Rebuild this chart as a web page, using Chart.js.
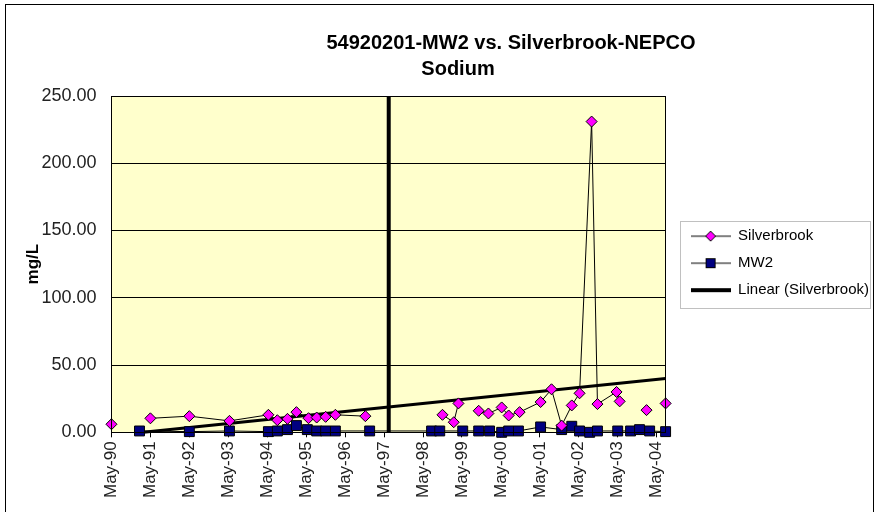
<!DOCTYPE html>
<html>
<head>
<meta charset="utf-8">
<script src="https://cdn.jsdelivr.net/npm/chart.js@4.4.1/dist/chart.umd.min.js"></script>
<style>
body { margin: 0; background: #fff; }
#frame { position: absolute; left: 5px; top: 4px; width: 867px; height: 530px; border: 1px solid #000; }
canvas { display: block; }
</style>
</head>
<body>
<div id="frame"><canvas id="Graf" width="867" height="507"></canvas></div>
<script>
// decimal years, May of each year ~ .37
var tickYears = [1990.37, 1991.37, 1992.37, 1993.37, 1994.37, 1995.37, 1996.37, 1997.37,
                 1998.37, 1999.37, 2000.37, 2001.37, 2002.37, 2003.37, 2004.37];
var tickLabels = ['May-90', 'May-91', 'May-92', 'May-93', 'May-94', 'May-95', 'May-96', 'May-97',
                  'May-98', 'May-99', 'May-00', 'May-01', 'May-02', 'May-03', 'May-04'];

// null = no sample, the line breaks there
var silverDates = [1990.37, 1990.9, 1991.37, 1992.37, 1993.40, 1994.40, 1994.63, 1994.89, 1995.12,
                   1995.43, 1995.64, 1995.87, 1996.12, 1996.89, 1997.9, 1998.87, 1999.16, 1999.28,
                   1999.5, 1999.80, 2000.05, 2000.39, 2000.57, 2000.85, 2001.39, 2001.67, 2001.93,
                   2002.19, 2002.39, 2002.70, 2002.85, 2003.34, 2003.42, 2003.8, 2004.11, 2004.4,
                   2004.60];
var silverValues = [6, null, 10.4, 12, 8.5, 13, 9, 10, 15,
                    10.5, 11, 11.5, 13, 12, null, 13, 7.5, 21.5,
                    null, 16, 14, 18.5, 12.5, 15, 22.5, 32, 5,
                    20, 29, 231, 21, 30, 23, null, 16.5, null,
                    21.5];

var mw2Dates = [1991.09, 1992.37, 1993.40, 1994.40, 1994.63, 1994.89, 1995.12, 1995.40, 1995.64,
                1995.87, 1996.12, 1997.00, 1998.59, 1998.80, 1999.39, 1999.80, 2000.08, 2000.39,
                2000.57, 2000.82, 2001.39, 2001.93, 2002.19, 2002.39, 2002.65, 2002.85, 2003.37,
                2003.70, 2003.93, 2004.19, 2004.60];
var mw2Values = [1, 0.5, 1, 0.5, 1, 2, 5, 2, 1,
                 1, 1, 1, 1, 1, 1, 1, 1, 0,
                 1, 1, 4, 2, 4.5, 1, 0, 1, 1,
                 1, 2, 1, 0.5];

var trendDates = [1991.19, 2004.60];
var trendValues = [0, 40];

var markDates = [1997.49, 1997.49];
var markValues = [0, 250];

var titleLines = ['54920201-MW2 vs. Silverbrook-NEPCO', 'Sodium'];
var fam = '"Liberation Sans", Arial, sans-serif';

function pairs(xs, ys) {
    var out = [];
    for (var i = 0; i < xs.length; i++) out.push({ x: xs[i], y: ys[i] });
    return out;
}

function legendIcon(kind) {
    var c = document.createElement('canvas');
    c.width = 40;
    c.height = 14;
    var g = c.getContext('2d');
    g.strokeStyle = '#000';
    g.lineWidth = kind == 'trend' ? 4 : 1;
    g.beginPath();
    g.moveTo(0, 7);
    g.lineTo(40, 7);
    g.stroke();
    g.lineWidth = 1;
    if (kind == 'diamond') {
        g.fillStyle = '#FF00FF';
        g.beginPath();
        g.moveTo(20, 2); g.lineTo(25, 7); g.lineTo(20, 12); g.lineTo(15, 7);
        g.closePath();
        g.fill(); g.stroke();
    } else if (kind == 'square') {
        g.fillStyle = '#000080';
        g.fillRect(15.5, 2.5, 9, 9);
        g.strokeRect(15.5, 2.5, 9, 9);
    }
    return c;
}

var plotBg = {
    id: 'plotBg',
    afterLayout: function (chart) {
        // put the legend beside the plot, a bit right of the default spot
        var lg = chart.legend, a = chart.chartArea;
        lg.left += 13;
        lg.right += 13;
        lg.top = a.top;
        lg.bottom = a.bottom - 2;
        lg.height = lg.bottom - lg.top;
    },
    beforeDraw: function (chart) {
        var a = chart.chartArea, ctx = chart.ctx;
        ctx.save();
        ctx.fillStyle = '#FFFFCC';
        ctx.fillRect(a.left, a.top, a.right - a.left, a.bottom - a.top);
        ctx.restore();
    },
    afterDraw: function (chart) {
        var a = chart.chartArea, ctx = chart.ctx;
        ctx.save();
        ctx.strokeStyle = '#000';
        ctx.lineWidth = 1;
        ctx.strokeRect(Math.round(a.left) + 0.5, Math.round(a.top) + 0.5,
                       Math.round(a.right - a.left), Math.round(a.bottom - a.top));
        // legend frame
        var hb = chart.legend.legendHitBoxes;
        if (hb && hb.length) {
            var l = hb[0].left, r = 0, t = hb[0].top, b = 0;
            hb.forEach(function (h) {
                l = Math.min(l, h.left);
                r = Math.max(r, h.left + h.width);
                t = Math.min(t, h.top);
                b = Math.max(b, h.top + h.height);
            });
            ctx.strokeStyle = '#c0c0c0';
            ctx.strokeRect(Math.round(l - 11) + 0.5, Math.round(t - 8) + 0.5,
                           Math.round(r - l + 12), Math.round(b - t + 18));
        }
        // titles
        ctx.fillStyle = '#000';
        ctx.font = 'bold 20px ' + fam;
        ctx.textAlign = 'center';
        ctx.textBaseline = 'middle';
        ctx.fillText(titleLines[0], 505, 38);
        ctx.fillText(titleLines[1], 452, 64);
        ctx.restore();
    }
};

var graf = new Chart('Graf', {
    type: 'line',
    data: {
        datasets: [{
            label: 'Silverbrook',
            data: pairs(silverDates, silverValues),
            borderColor: '#000',
            borderWidth: 1,
            pointStyle: 'rectRot',
            pointRadius: 5.5,
            pointBackgroundColor: '#FF00FF',
            pointBorderColor: '#000',
            pointBorderWidth: 1,
            spanGaps: false,
            clip: false,
            order: 1
        }, {
            label: 'MW2',
            data: pairs(mw2Dates, mw2Values),
            borderColor: '#000',
            borderWidth: 1,
            pointStyle: 'rect',
            pointRadius: 7,
            pointBackgroundColor: '#000080',
            pointBorderColor: '#000',
            pointBorderWidth: 1,
            clip: false,
            order: 2
        }, {
            label: 'Linear (Silverbrook)',
            data: pairs(trendDates, trendValues),
            borderColor: '#000',
            borderWidth: 3,
            pointRadius: 0,
            clip: false,
            order: 3
        }, {
            label: 'mark',
            data: pairs(markDates, markValues),
            borderColor: '#000',
            borderWidth: 4,
            pointRadius: 0,
            clip: false,
            order: 4
        }]
    },
    options: {
        responsive: false,
        animation: false,
        layout: { padding: { top: 91, left: 12, right: 7, bottom: 10 } },
        scales: {
            x: {
                type: 'linear',
                min: 1990.37,
                max: 2004.60,
                afterBuildTicks: function (axis) {
                    axis.ticks = tickYears.map(function (v) { return { value: v }; });
                },
                ticks: {
                    autoSkip: false,
                    minRotation: 90,
                    maxRotation: 90,
                    padding: 4,
                    color: '#222',
                    font: { family: fam, size: 17 },
                    callback: function (v, i) { return tickLabels[i]; }
                },
                grid: { drawOnChartArea: false, drawTicks: true, tickLength: 5, color: '#000' },
                border: { color: '#000' }
            },
            y: {
                min: 0,
                max: 250,
                ticks: {
                    stepSize: 50,
                    padding: 15,
                    color: '#222',
                    font: { family: fam, size: 18 },
                    callback: function (v) { return v.toFixed(2); }
                },
                grid: { color: '#000', drawTicks: false },
                border: { color: '#000' },
                title: {
                    display: true,
                    text: 'mg/L',
                    color: '#000',
                    padding: { top: 5, bottom: -17 },
                    font: { family: fam, size: 17, weight: 'bold' }
                }
            }
        },
        plugins: {
            tooltip: { enabled: false },
            legend: {
                position: 'right',
                labels: {
                    usePointStyle: true,
                    pointStyleWidth: 40,
                    padding: 12,
                    color: '#222',
                    font: { family: fam, size: 15 },
                    generateLabels: function () {
                        return [
                            { text: 'Silverbrook', pointStyle: legendIcon('diamond'), hidden: false, lineWidth: 0, datasetIndex: 0 },
                            { text: 'MW2', pointStyle: legendIcon('square'), hidden: false, lineWidth: 0, datasetIndex: 1 },
                            { text: 'Linear (Silverbrook)', pointStyle: legendIcon('trend'), hidden: false, lineWidth: 0, datasetIndex: 2 }
                        ];
                    }
                }
            }
        }
    },
    plugins: [plotBg]
});
</script>
</body>
</html>
